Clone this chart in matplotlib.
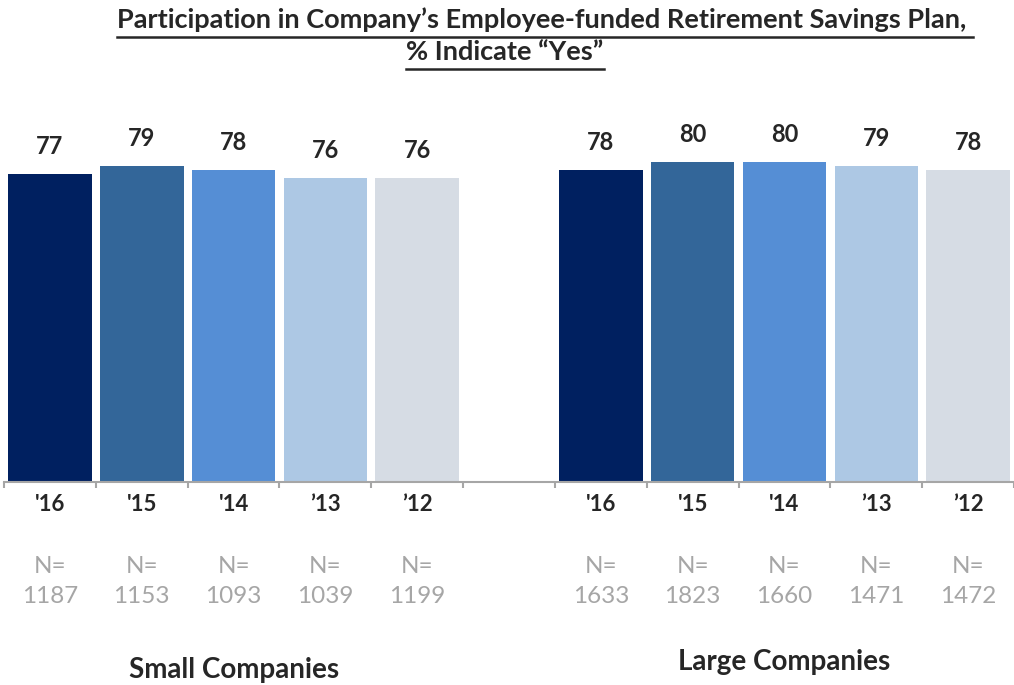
import matplotlib.pyplot as plt
from matplotlib.lines import Line2D

plt.rcParams['font.family'] = ['Lato', 'DejaVu Sans']

# data
years = ["'16", "'15", "'14", "\u201913", "\u201912"]
small_vals = [77, 79, 78, 76, 76]
large_vals = [78, 80, 80, 79, 78]
small_n = [1187, 1153, 1093, 1039, 1199]
large_n = [1633, 1823, 1660, 1471, 1472]
colors = ['#002060', '#336699', '#558ED5', '#ADC8E4', '#D6DCE4']

fig = plt.figure(figsize=(10.14, 6.85), dpi=100)
ax = fig.add_axes([0.004, 0.2964, 0.996, 0.5839])

# 11 slots: 5 small, 1 gap, 5 large
xs_small = list(range(5))
xs_large = [i + 6 for i in range(5)]
ax.bar(xs_small, small_vals, width=0.91, color=colors)
ax.bar(xs_large, large_vals, width=0.91, color=colors)

ax.set_xlim(-0.5, 10.5)
ax.set_ylim(0, 100)

for spine in ['top', 'right', 'left']:
    ax.spines[spine].set_visible(False)
ax.spines['bottom'].set_color('#A6A6A6')
ax.spines['bottom'].set_linewidth(1.5)
ax.set_yticks([])
ax.set_xticks([i - 0.5 for i in range(12)])
ax.set_xticklabels([])
ax.tick_params(axis='x', direction='out', length=4, width=1.5, color='#A6A6A6')

label_col = '#262626'
gray = '#A6A6A6'
for xs, vals, ns in [(xs_small, small_vals, small_n), (xs_large, large_vals, large_n)]:
    for x, v, n, yr in zip(xs, vals, ns, years):
        ax.annotate(str(v), (x, v), xytext=(0, 19.5), textcoords='offset points',
                    ha='center', va='center', fontsize=17, fontweight='bold', color=label_col)
        ax.text(x, -5.75, yr, ha='center', va='center', fontsize=16,
                fontweight='bold', color=label_col, clip_on=False)
        ax.text(x, -21.25, 'N=', ha='center', va='center', fontsize=17.5,
                color=gray, clip_on=False)
        ax.text(x, -28.75, str(n), ha='center', va='center', fontsize=17.5,
                color=gray, clip_on=False)

ax.text(2, -47, 'Small Companies', ha='center', va='center', fontsize=20,
        fontweight='bold', color=label_col, clip_on=False)
ax.text(8, -45, 'Large Companies', ha='center', va='center', fontsize=20,
        fontweight='bold', color=label_col, clip_on=False)

# underlined two-line title
t1 = fig.text(545 / 1014, 1 - 20 / 685, 'Participation in Company\u2019s Employee-funded Retirement Savings Plan, ',
              ha='center', va='center', fontsize=19.5, fontweight='bold', color=label_col)
t2 = fig.text(505 / 1014, 1 - 52 / 685, '% Indicate \u201cYes\u201d',
              ha='center', va='center', fontsize=19.5, fontweight='bold', color=label_col)
fig.canvas.draw()
renderer = fig.canvas.get_renderer()
for t, uy in [(t1, 37), (t2, 69)]:
    bb = t.get_window_extent(renderer)
    y = 1 - uy / 685
    fig.add_artist(Line2D([bb.x0 / 1014, bb.x1 / 1014], [y, y], transform=fig.transFigure,
                          color=label_col, linewidth=1.8))

fig.savefig('out.png', dpi=100)
